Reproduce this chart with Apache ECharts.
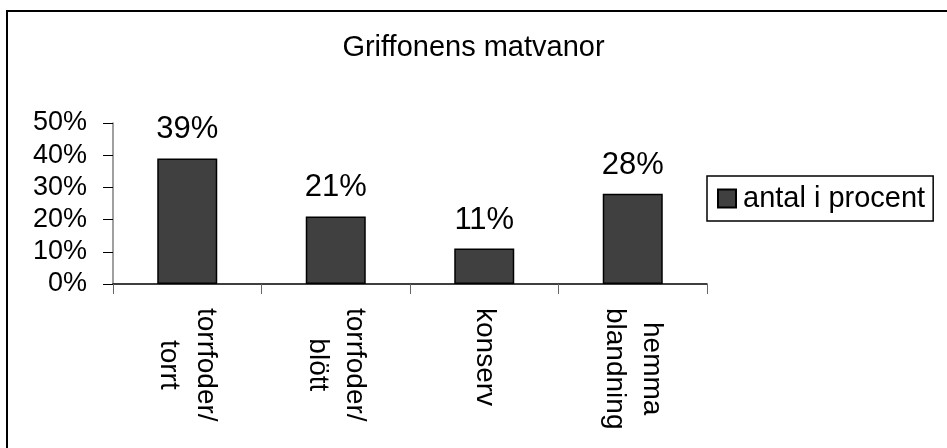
<!DOCTYPE html>
<html>
<head>
<meta charset="utf-8">
<script src="https://cdn.jsdelivr.net/npm/echarts@6/dist/echarts.min.js"></script>
<style>html,body{margin:0;padding:0;background:#fff}#c{width:947px;height:448px}</style>
</head>
<body>
<div id="c"></div>
<script>
const titleText = 'Griffonens matvanor';
const seriesName = 'antal i procent';
const categories = [['torrfoder/', 'torrt'], ['torrfoder/', 'blött'], ['konserv'], ['hemma', 'blandning']];
const values = [39, 21, 11, 28];
const yTicks = [0, 10, 20, 30, 40, 50];

const FONT = '"Liberation Sans", Arial, sans-serif';
const chart = echarts.init(document.getElementById('c'), null, {renderer: 'canvas'});
chart.setOption({
  backgroundColor: '#fff',
  animation: false,
  textStyle: {fontFamily: FONT, color: '#000'},
  title: {
    text: titleText, left: 'center', top: 28,
    textStyle: {fontFamily: FONT, fontSize: 29, fontWeight: 'normal', color: '#000'}
  },
  graphic: [{
    type: 'rect', shape: {x: 7, y: 11, width: 1000, height: 500},
    style: {fill: 'none', stroke: '#000', lineWidth: 2}, silent: true, z: 100
  }],
  legend: {
    data: [seriesName], left: 707, top: 176, orient: 'vertical',
    padding: [8, 8, 8, 10], itemWidth: 18, itemHeight: 18, itemGap: 0,
    borderColor: '#000', borderWidth: 1.5, icon: 'rect',
    textStyle: {fontFamily: FONT, fontSize: 29, color: '#000', padding: [0, 0, 0, 2]}
  },
  grid: {left: 113, right: 240, top: 123, bottom: 164, containLabel: false},
  xAxis: {
    type: 'category',
    data: categories.map(c => c.join('\n')),
    axisLine: {lineStyle: {color: '#000', width: 1.5}},
    axisTick: {show: true, length: 10, lineStyle: {color: '#666'}},
    axisLabel: {
      rotate: -90, margin: 24, interval: 0,
      fontFamily: FONT, fontSize: 28, color: '#000', lineHeight: 37,
      formatter: v => v.split('\n').map(s => '{c|' + s + '}').join('\n'),
      rich: {c: {align: 'center', fontFamily: FONT, fontSize: 28, color: '#000', lineHeight: 37}}
    }
  },
  yAxis: {
    type: 'value', min: yTicks[0], max: yTicks[yTicks.length - 1], interval: 10,
    axisLine: {show: true, lineStyle: {color: '#808080', width: 1.5}},
    axisTick: {show: true, length: 10, lineStyle: {color: '#000'}},
    splitLine: {show: false},
    axisLabel: {fontFamily: FONT, fontSize: 27, color: '#000', margin: 26, formatter: v => v + '%'}
  },
  series: [{
    name: seriesName, type: 'bar', data: values, barWidth: 60,
    itemStyle: {color: '#404040', borderColor: '#000', borderWidth: 1.5},
    label: {
      show: true, position: 'top', distance: 13,
      fontFamily: FONT, fontSize: 31, color: '#000', formatter: p => p.value + '%'
    }
  }]
});
</script>
</body>
</html>
